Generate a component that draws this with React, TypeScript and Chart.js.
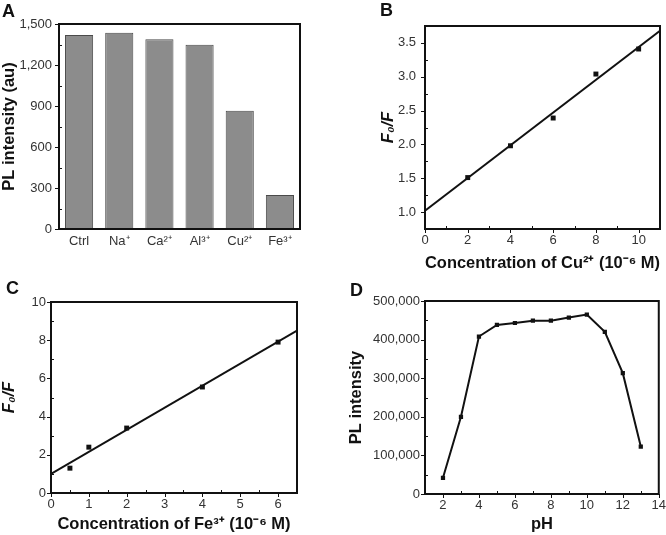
import React, { useEffect, useRef } from 'react';
import { Chart, registerables } from 'chart.js';
Chart.register(...registerables);

const W = 666;
const H = 535;
const FONT = "'Liberation Sans', Arial, Helvetica, sans-serif";
const TICK_COLOR = '#333';
const TITLE_COLOR = '#111';

// Panel A: PL intensity for different ions
const ionLabels = ['Ctrl', 'Na⁺', 'Ca²⁺', 'Al³⁺', 'Cu²⁺', 'Fe³⁺'];
const ionIntensity = [1419, 1436, 1388, 1349, 866, 248];

// Panel B: F0/F vs Cu2+ concentration
const cuConc = [2, 4, 6, 8, 10];
const cuRatio = [1.51, 1.98, 2.39, 3.04, 3.41];
const cuFitX = [0, 11];
const cuFitY = [1.02, 3.68];

// Panel C: F0/F vs Fe3+ concentration
const feConc = [0.5, 1, 2, 4, 6];
const feRatio = [1.3, 2.4, 3.4, 5.55, 7.9];
const feFitX = [0, 6.5];
const feFitY = [1.0, 8.5];

// Panel D: PL intensity vs pH
const phValues = [2, 3, 4, 5, 6, 7, 8, 9, 10, 11, 12, 13];
const phIntensity = [42000, 200000, 408000, 438000, 443000, 449000, 449000, 457000, 465000, 420000, 313000, 123000];

const toPoints = (xs: number[], ys: number[]) => xs.map((x, i) => ({ x, y: ys[i] }));

// Draws major (outward) and minor (inward) tick marks, then the box frame
const framePlugin = {
  id: 'frame',
  afterDatasetsDraw(chart: any) {
    const { ctx, chartArea: a } = chart;
    ctx.save();
    ctx.strokeStyle = '#111';
    ctx.lineWidth = 1;
    ctx.beginPath();
    const xs = chart.scales.x;
    if (xs && xs.type === 'linear') {
      xs.ticks.forEach((t: any) => {
        const p = Math.round(xs.getPixelForValue(t.value)) + 0.5;
        if (t.label !== '') {
          ctx.moveTo(p, a.bottom);
          ctx.lineTo(p, a.bottom + 4);
        } else {
          ctx.moveTo(p, a.bottom);
          ctx.lineTo(p, a.bottom - 3);
        }
      });
    }
    const ys = chart.scales.y;
    if (ys && ys.type === 'linear') {
      ys.ticks.forEach((t: any) => {
        const p = Math.round(ys.getPixelForValue(t.value)) + 0.5;
        if (t.label !== '') {
          ctx.moveTo(a.left, p);
          ctx.lineTo(a.left - 4, p);
        } else {
          ctx.moveTo(a.left, p);
          ctx.lineTo(a.left + 3, p);
        }
      });
    }
    ctx.stroke();
    ctx.lineWidth = 2;
    ctx.strokeRect(a.left, a.top, a.right - a.left, a.bottom - a.top);
    ctx.restore();
  },
};

type Area = { l: number; t: number; r: number; b: number; x0: number; y1: number };

const titleFont = (italic = false) => ({
  family: FONT,
  size: 16.5,
  weight: 'bold' as const,
  style: italic ? ('italic' as const) : ('normal' as const),
});
const tickFont = { family: FONT, size: 13 };

function linearAxis(o: {
  min: number; max: number; step: number; every: number; fmt: (v: number) => string;
  size: number; horizontal: boolean; title?: string; italic?: boolean; pad: number;
}) {
  return {
    type: 'linear',
    min: o.min,
    max: o.max,
    border: { display: false },
    grid: {
      display: true,
      drawOnChartArea: false,
      drawTicks: true,
      tickLength: 4,
      color: 'rgba(0,0,0,0)',
    },
    ticks: {
      stepSize: o.step,
      autoSkip: false,
      maxRotation: 0,
      padding: o.pad,
      color: TICK_COLOR,
      font: tickFont,
      callback: (v: any) => {
        const n = Number(v);
        const k = n / o.every;
        return Math.abs(k - Math.round(k)) < 1e-6 ? o.fmt(n) : '';
      },
    },
    title: o.title
      ? { display: true, text: o.title, color: TITLE_COLOR, font: titleFont(o.italic), padding: { top: 0, bottom: 0 } }
      : { display: false },
    afterFit: (s: any) => {
      if (o.horizontal) s.height = o.size;
      else s.width = o.size;
    },
  };
}

const baseOptions = (a: Area) => ({
  responsive: false,
  animation: false,
  devicePixelRatio: 1,
  events: [],
  layout: { padding: { left: a.x0, top: a.t, right: W - a.r, bottom: H - a.y1 } },
  plugins: { legend: { display: false }, tooltip: { enabled: false }, title: { display: false } },
});

const areaA: Area = { l: 59, t: 24, r: 300, b: 229, x0: 0, y1: 260 };
const areaB: Area = { l: 425, t: 26, r: 660, b: 229, x0: 379, y1: 273 };
const areaC: Area = { l: 51, t: 302, r: 297, b: 493, x0: 0, y1: 534 };
const areaD: Area = { l: 425, t: 301, r: 660, b: 494, x0: 347, y1: 534 };

const comma = (v: number) => Math.round(v).toLocaleString('en-US');

function buildA() {
  const a = areaA;
  return {
    type: 'bar',
    data: {
      labels: ionLabels,
      datasets: [
        {
          data: ionIntensity,
          backgroundColor: '#8c8c8c',
          borderColor: '#4a4a4a',
          borderWidth: 1,
          barPercentage: 0.7,
          categoryPercentage: 1.0,
        },
      ],
    },
    options: {
      ...baseOptions(a),
      scales: {
        x: {
          type: 'category',
          border: { display: false },
          grid: { display: false, drawTicks: false },
          ticks: { color: TICK_COLOR, font: tickFont, padding: 5, maxRotation: 0, autoSkip: false },
          afterFit: (s: any) => { s.height = a.y1 - a.b; },
        },
        y: linearAxis({
          min: 0, max: 1500, step: 150, every: 300, fmt: comma,
          size: a.l - a.x0, horizontal: false, title: 'PL intensity (au)', pad: 3,
        }),
      },
    },
    plugins: [framePlugin],
  };
}

function buildB() {
  const a = areaB;
  return {
    type: 'scatter',
    data: {
      datasets: [
        {
          data: toPoints(cuFitX, cuFitY),
          showLine: true,
          borderColor: '#111',
          borderWidth: 2,
          pointRadius: 0,
        },
        {
          data: toPoints(cuConc, cuRatio),
          showLine: false,
          pointStyle: 'rect',
          pointRadius: 3.5,
          backgroundColor: '#111',
          borderColor: '#111',
          borderWidth: 0,
        },
      ],
    },
    options: {
      ...baseOptions(a),
      scales: {
        x: linearAxis({
          min: 0, max: 11, step: 1, every: 2, fmt: (v) => String(v),
          size: a.y1 - a.b, horizontal: true, title: 'Concentration of Cu²⁺ (10⁻⁶ M)', pad: 0,
        }),
        y: linearAxis({
          min: 0.75, max: 3.75, step: 0.25, every: 0.5, fmt: (v) => v.toFixed(1),
          size: a.l - a.x0, horizontal: false, title: 'F₀/F', italic: true, pad: 5,
        }),
      },
    },
    plugins: [framePlugin],
  };
}

function buildC() {
  const a = areaC;
  return {
    type: 'scatter',
    data: {
      datasets: [
        {
          data: toPoints(feFitX, feFitY),
          showLine: true,
          borderColor: '#111',
          borderWidth: 2,
          pointRadius: 0,
        },
        {
          data: toPoints(feConc, feRatio),
          showLine: false,
          pointStyle: 'rect',
          pointRadius: 3.5,
          backgroundColor: '#111',
          borderColor: '#111',
          borderWidth: 0,
        },
      ],
    },
    options: {
      ...baseOptions(a),
      scales: {
        x: linearAxis({
          min: 0, max: 6.5, step: 0.5, every: 1, fmt: (v) => String(v),
          size: a.y1 - a.b, horizontal: true, title: 'Concentration of Fe³⁺ (10⁻⁶ M)', pad: 0,
        }),
        y: linearAxis({
          min: 0, max: 10, step: 1, every: 2, fmt: (v) => String(v),
          size: a.l - a.x0, horizontal: false, title: 'F₀/F', italic: true, pad: 1,
        }),
      },
    },
    plugins: [framePlugin],
  };
}

function buildD() {
  const a = areaD;
  return {
    type: 'scatter',
    data: {
      datasets: [
        {
          data: toPoints(phValues, phIntensity),
          showLine: true,
          borderColor: '#111',
          borderWidth: 2,
          pointStyle: 'rect',
          pointRadius: 3,
          backgroundColor: '#111',
          pointBorderWidth: 0,
        },
      ],
    },
    options: {
      ...baseOptions(a),
      scales: {
        x: linearAxis({
          min: 1, max: 14, step: 1, every: 2, fmt: (v) => String(v),
          size: a.y1 - a.b, horizontal: true, title: 'pH', pad: 0,
        }),
        y: linearAxis({
          min: 0, max: 500000, step: 50000, every: 100000, fmt: comma,
          size: a.l - a.x0, horizontal: false, title: 'PL intensity', pad: 1,
        }),
      },
    },
    plugins: [framePlugin],
  };
}

function ChartLayer({ build }: { build: () => any }) {
  const ref = useRef<HTMLCanvasElement>(null);
  useEffect(() => {
    if (!ref.current) return;
    const chart = new Chart(ref.current, build());
    return () => chart.destroy();
  }, [build]);
  return (
    <canvas
      ref={ref}
      width={W}
      height={H}
      style={{ position: 'absolute', left: 0, top: 0, width: W, height: H }}
    />
  );
}

const letterStyle = (left: number, top: number): React.CSSProperties => ({
  position: 'absolute',
  left,
  top,
  fontFamily: FONT,
  fontWeight: 'bold',
  fontSize: 18,
  lineHeight: '20px',
  color: '#111',
});

export default function App() {
  return (
    <div style={{ position: 'absolute', left: 0, top: 0, width: W, height: H, background: '#fff', overflow: 'hidden' }}>
      <ChartLayer build={buildA} />
      <ChartLayer build={buildB} />
      <ChartLayer build={buildC} />
      <ChartLayer build={buildD} />
      <div style={letterStyle(2, 1)}>A</div>
      <div style={letterStyle(380, 0)}>B</div>
      <div style={letterStyle(6, 278)}>C</div>
      <div style={letterStyle(350, 280)}>D</div>
    </div>
  );
}
